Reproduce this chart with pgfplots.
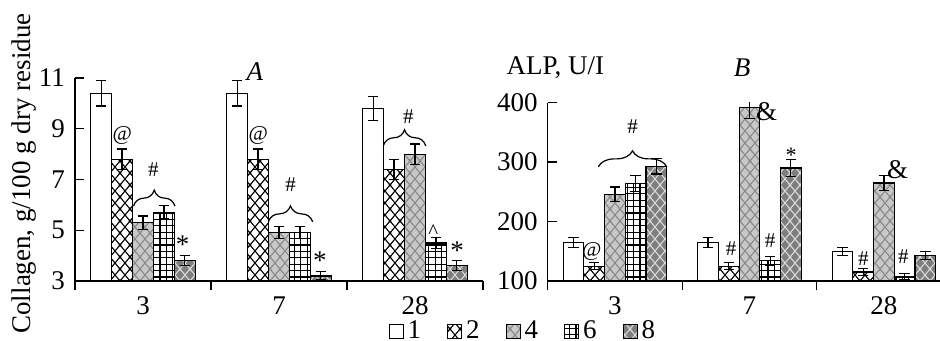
\documentclass[border=0pt]{standalone}
\usepackage{fontspec}
\setmainfont{Liberation Serif}
\usepackage{pgfplots}
\pgfplotsset{compat=1.18}
\usepackage{pgfplotstable}
\usetikzlibrary{patterns,decorations.pathreplacing}

\pgfdeclarepatternformonly{lat}{\pgfqpoint{-1pt}{-1pt}}{\pgfqpoint{6pt}{7pt}}{\pgfqpoint{5pt}{6pt}}{
  \pgfsetlinewidth{0.55pt}
  \pgfpathmoveto{\pgfqpoint{-0.5pt}{-0.6pt}}\pgfpathlineto{\pgfqpoint{5.5pt}{6.6pt}}
  \pgfpathmoveto{\pgfqpoint{-0.5pt}{6.6pt}}\pgfpathlineto{\pgfqpoint{5.5pt}{-0.6pt}}
  \pgfusepath{stroke}}
\pgfdeclarepatternformonly{gridp}{\pgfqpoint{-0.5pt}{-0.5pt}}{\pgfqpoint{3.7pt}{3.7pt}}{\pgfqpoint{3.2pt}{3.2pt}}{
  \pgfsetlinewidth{0.65pt}
  \pgfpathmoveto{\pgfqpoint{0pt}{-0.5pt}}\pgfpathlineto{\pgfqpoint{0pt}{3.7pt}}
  \pgfpathmoveto{\pgfqpoint{-0.5pt}{0pt}}\pgfpathlineto{\pgfqpoint{3.7pt}{0pt}}
  \pgfusepath{stroke}}

\definecolor{gfour}{HTML}{C8C8C8}
\definecolor{gfourl}{HTML}{8A8A8A}
\definecolor{geight}{HTML}{7E7E7E}
\definecolor{geightl}{HTML}{D8D8D8}

\pgfplotstableread{
x s1 e1 s2 e2 s4 e4 s6 e6 s8 e8
0 10.4 0.5 7.8 0.4 5.3 0.26 5.7 0.26 3.8 0.2
1 10.4 0.5 7.8 0.4 4.9 0.24 4.9 0.24 3.2 0.16
2 9.8 0.47 7.4 0.39 8.0 0.4 4.5 0.22 3.6 0.2
}\dataA
\pgfplotstableread{
x s1 e1 s2 e2 s4 e4 s6 e6 s8 e8
0 165 8 125 6 246 12 264 13 293 13
1 165 8 125 6 392 19 134 7 290 14
2 150 7 115 6 265 13 107 5 143 7
}\dataB

\pgfplotsset{
  panel/.style={
    scale only axis, axis lines*=left,
    axis line style={line width=0.7pt,-},
    tick align=inside, major tick length=4.5pt,
    tick style={line width=0.7pt,black},
    xmin=-0.5, xmax=2.5,
    xtick={-0.5,0.5,1.5,2.5}, x tick label as interval,
    xticklabels={3,7,28},
    ybar, bar width=0.154,
    clip mode=individual,
    font=\fontsize{13.5}{15}\selectfont,
    ticklabel style={font=\fontsize{13.5}{15}\selectfont},
    yticklabel style={xshift=-1.5pt},
    xticklabel style={inner ysep=1pt, yshift=-2pt},
    /pgf/number format/assume math mode=true,
    error bars/y dir=both, error bars/y explicit,
    error bars/error bar style={line width=0.6pt,black,solid},
    error bars/error mark options={black,line width=0.6pt,mark size=2.6pt,rotate=90},
    legend image code/.code={\draw[##1,/tikz/.cd,line width=0.5pt] (0pt,-3.8pt) rectangle (7pt,3.2pt);},
  },
  bA/.style={draw=black,line width=0.6pt,fill=white,bar shift=-0.308},
  bB/.style={draw=black,line width=0.6pt,fill=white,postaction={pattern=lat,pattern color=black},bar shift=-0.154},
  bC/.style={draw=black,line width=0.6pt,fill=gfour,postaction={pattern=lat,pattern color=gfourl},bar shift=0},
  bD/.style={draw=black,line width=0.6pt,fill=white,postaction={pattern=gridp,pattern color=black},bar shift=0.154},
  bE/.style={draw=black,line width=0.6pt,fill=geight,postaction={pattern=lat,pattern color=geightl},bar shift=0.308},
}

\begin{document}
\begin{tikzpicture}
\path[use as bounding box] (0pt,0pt) rectangle (470pt,170.5pt);

\begin{axis}[panel, at={(37.5pt,30pt)}, anchor=south west,
  width=204pt, height=101.5pt, ymin=3, ymax=11, ytick={3,5,7,9,11},
  ylabel={Collagen, g/100 g dry residue},
  every axis y label/.style={at={(axis description cs:-0.125,0.53)}, rotate=90, anchor=center, font=\fontsize{13.5}{15}\selectfont},
  legend style={at={(axis description cs:1.1,-0.245)}, anchor=center, legend columns=-1, draw=none, fill=none,
    inner sep=0pt, nodes={inner ysep=0.5pt},
    font=\fontsize{13.5}{15}\selectfont, /tikz/every even column/.append style={column sep=11pt}},
]
\addplot[bA] table[x=x,y=s1,y error=e1]{\dataA};
\addplot[bB] table[x=x,y=s2,y error=e2]{\dataA};
\addplot[bC] table[x=x,y=s4,y error=e4]{\dataA};
\addplot[bD] table[x=x,y=s6,y error=e6]{\dataA};
\addplot[bE] table[x=x,y=s8,y error=e8]{\dataA};
\legend{1,2,4,6,8}
\node[font=\fontsize{13.5}{15}\selectfont\itshape] at (axis description cs:0.441,1.03) {A};
\begin{scope}[font=\fontsize{10.5}{12}\selectfont]
\node at (-0.153,8.75) {@};
\node at (0.847,8.75) {@};
\node at (0.076,7.37) {\#};
\node at (1.086,6.78) {\#};
\node at (1.951,9.47) {\#};
\node at (2.135,4.95) {\^{}};
\end{scope}
\begin{scope}[font=\fontsize{13.5}{15}\selectfont]
\node at (0.292,4.45) {*};
\node at (1.30,3.8) {*};
\node at (2.31,4.2) {*};
\end{scope}
\draw[decorate,decoration={brace,amplitude=8pt},line width=0.6pt] (-0.07,5.95) -- (0.235,5.95);
\draw[decorate,decoration={brace,amplitude=8pt},line width=0.6pt] (0.921,5.33) -- (1.248,5.33);
\draw[decorate,decoration={brace,amplitude=8pt},line width=0.6pt] (1.767,8.33) -- (2.079,8.33);
\end{axis}

\begin{axis}[panel, at={(273.85pt,30pt)}, anchor=south west,
  width=201.75pt, height=89.15pt, ymin=100, ymax=400, ytick={100,200,300,400},
]
\addplot[bA] table[x=x,y=s1,y error=e1]{\dataB};
\addplot[bB] table[x=x,y=s2,y error=e2]{\dataB};
\addplot[bC] table[x=x,y=s4,y error=e4]{\dataB};
\addplot[bD] table[x=x,y=s6,y error=e6]{\dataB};
\addplot[bE] table[x=x,y=s8,y error=e8]{\dataB};
\node[font=\fontsize{13.5}{15}\selectfont] at (axis description cs:0.019,1.195) {ALP, U/I};
\node[font=\fontsize{13.5}{15}\selectfont\itshape] at (axis description cs:0.4815,1.195) {B};
\begin{scope}[font=\fontsize{10.5}{12}\selectfont]
\node at (-0.173,149) {@};
\node at (0.132,360) {\#};
\node at (0.863,155) {\#};
\node at (1.153,168) {\#};
\node at (1.847,138) {\#};
\node at (2.144,141) {\#};
\end{scope}
\begin{scope}[font=\fontsize{13.5}{15}\selectfont]
\node at (1.128,385) {\&};
\node at (2.102,287) {\&};
\end{scope}
\node[font=\fontsize{11}{12}\selectfont] at (1.309,312) {*};
\draw[decorate,decoration={brace,amplitude=8pt},line width=0.6pt] (-0.124,292) -- (0.385,292);
\end{axis}
\end{tikzpicture}
\end{document}
